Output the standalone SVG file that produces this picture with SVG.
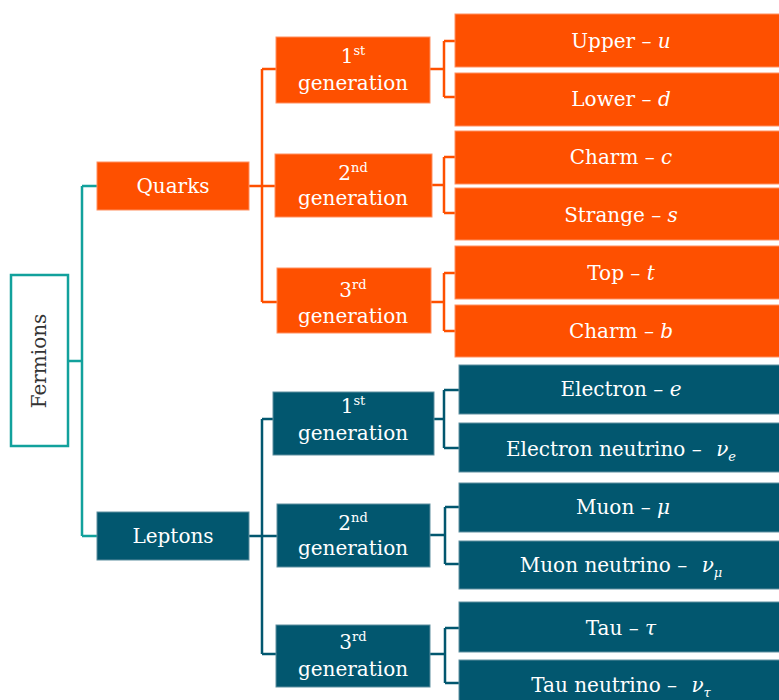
<svg xmlns="http://www.w3.org/2000/svg" width="779" height="700" viewBox="0 0 779 700">
<style>
text{font-family:"DejaVu Serif","Liberation Serif",serif;font-size:20px;fill:#ffffff;text-anchor:middle}
.q{fill:#FE5000;stroke:#FF8F60;stroke-width:1}
.l{fill:#02576F;stroke:#5E8FA0;stroke-width:1}
.i{font-style:italic}
.sup{font-size:13px}
.cq{stroke:#FE5000;stroke-width:2.5;fill:none}
.cl{stroke:#02576F;stroke-width:2.5;fill:none}
.ct{stroke:#12A19C;stroke-width:2.5;fill:none}
</style>
<rect width="779" height="700" fill="#ffffff"/>
<g id="connectors">
<path class="ct" d="M69,361 H82 M82,186 V536 M82,186 H97 M82,536 H97"/>
<path class="cq" d="M249,186 H275 M262,69 V302 M262,69 H276 M262,302 H277"/>
<path class="cq" d="M430,69 H444 M444,41 V97 M444,41 H455 M444,97 H455"/>
<path class="cq" d="M432,185 H444 M444,157 V213 M444,157 H455 M444,213 H455"/>
<path class="cq" d="M431,302 H444 M444,273 V331 M444,273 H455 M444,331 H455"/>
<path class="cl" d="M249,536 H277 M262,419 V654 M262,419 H273 M262,654 H276"/>
<path class="cl" d="M434,419 H444 M444,390 V448 M444,390 H459 M444,448 H459"/>
<path class="cl" d="M430,535 H445 M445,507 V564 M445,507 H459 M445,564 H459"/>
<path class="cl" d="M430,654 H445 M445,628 V683 M445,628 H459 M445,683 H459"/>
</g>
<g id="fermions">
<rect x="11" y="275" width="57" height="171" fill="#ffffff" stroke="#12A19C" stroke-width="2.5"/>
<text transform="translate(46,361) rotate(-90)" style="fill:#333333">Fermions</text>
</g>
<g id="quarks">
<rect class="q" x="97" y="162" width="152" height="48"/>
<text x="173" y="193">Quarks</text>
</g>
<g id="leptons">
<rect class="l" x="97" y="512" width="152" height="48"/>
<text x="173" y="543">Leptons</text>
</g>
<g id="q-gen1">
<rect class="q" x="276" y="37" width="154" height="66"/>
<text x="353" y="63">1<tspan class="sup" dy="-8">st</tspan></text>
<text x="353" y="90">generation</text>
</g>
<g id="q-gen2">
<rect class="q" x="275" y="154" width="157" height="63"/>
<text x="353" y="180">2<tspan class="sup" dy="-8">nd</tspan></text>
<text x="353" y="205">generation</text>
</g>
<g id="q-gen3">
<rect class="q" x="277" y="268" width="154" height="65"/>
<text x="353" y="297">3<tspan class="sup" dy="-8">rd</tspan></text>
<text x="353" y="323">generation</text>
</g>
<g id="l-gen1">
<rect class="l" x="273" y="392" width="161" height="63"/>
<text x="353" y="413">1<tspan class="sup" dy="-8">st</tspan></text>
<text x="353" y="440">generation</text>
</g>
<g id="l-gen2">
<rect class="l" x="277" y="504" width="153" height="63"/>
<text x="353" y="530">2<tspan class="sup" dy="-8">nd</tspan></text>
<text x="353" y="555">generation</text>
</g>
<g id="l-gen3">
<rect class="l" x="276" y="625" width="154" height="62"/>
<text x="353" y="649">3<tspan class="sup" dy="-8">rd</tspan></text>
<text x="353" y="676">generation</text>
</g>
<g id="upper"><rect class="q" x="455" y="14" width="330" height="53"/><text x="621" y="48">Upper – <tspan class="i">u</tspan></text></g>
<g id="lower"><rect class="q" x="455" y="73" width="330" height="53"/><text x="621" y="106">Lower – <tspan class="i">d</tspan></text></g>
<g id="charm"><rect class="q" x="455" y="131" width="330" height="53"/><text x="621" y="164">Charm – <tspan class="i">c</tspan></text></g>
<g id="strange"><rect class="q" x="455" y="188" width="330" height="52"/><text x="621" y="222">Strange – <tspan class="i">s</tspan></text></g>
<g id="top"><rect class="q" x="455" y="246" width="330" height="53"/><text x="621" y="280">Top – <tspan class="i">t</tspan></text></g>
<g id="charm-b"><rect class="q" x="455" y="305" width="330" height="52"/><text x="621" y="338">Charm – <tspan class="i">b</tspan></text></g>
<g id="electron"><rect class="l" x="459" y="365" width="326" height="49"/><text x="621" y="396">Electron – <tspan class="i">e</tspan></text></g>
<g id="electron-neutrino"><rect class="l" x="459" y="423" width="326" height="49"/><text x="621" y="456">Electron neutrino – <tspan class="i" dx="8">ν</tspan><tspan class="i sup" dy="5">e</tspan></text></g>
<g id="muon"><rect class="l" x="459" y="483" width="326" height="49"/><text x="623" y="514">Muon – <tspan class="i">μ</tspan></text></g>
<g id="muon-neutrino"><rect class="l" x="459" y="541" width="326" height="48"/><text x="621" y="572">Muon neutrino – <tspan class="i" dx="8">ν</tspan><tspan class="i sup" dy="5">μ</tspan></text></g>
<g id="tau"><rect class="l" x="459" y="602" width="326" height="50"/><text x="621" y="635">Tau – <tspan class="i">τ</tspan></text></g>
<g id="tau-neutrino"><rect class="l" x="459" y="660" width="326" height="50"/><text x="621" y="692">Tau neutrino – <tspan class="i" dx="8">ν</tspan><tspan class="i sup" dy="5">τ</tspan></text></g>
</svg>
